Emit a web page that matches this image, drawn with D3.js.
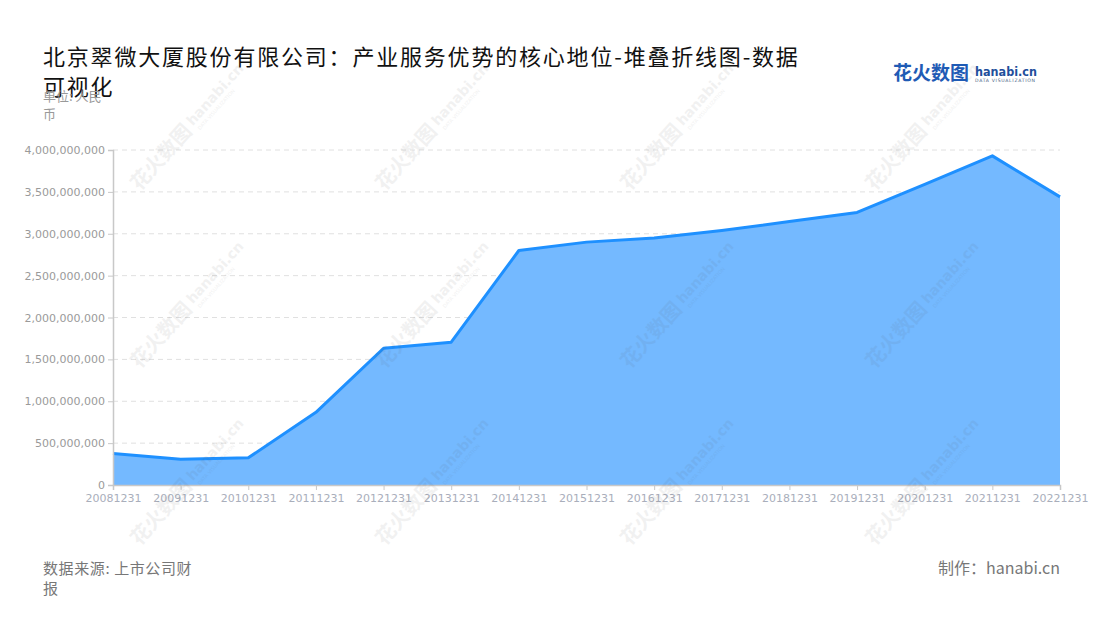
<!DOCTYPE html>
<html>
<head>
<meta charset="utf-8">
<script src="https://cdn.jsdelivr.net/npm/d3@7"></script>
<style>
  body { margin: 0; background: #fff; }
  svg { display: block; }
</style>
</head>
<body>
<script>
  // data
  var categories = ["20081231", "20091231", "20101231", "20111231", "20121231", "20131231", "20141231",
    "20151231", "20161231", "20171231", "20181231", "20191231", "20201231", "20211231", "20221231"];
  var values = [375000000, 307000000, 325000000, 868000000, 1633000000, 1705000000, 2800000000,
    2900000000, 2948000000, 3038000000, 3145000000, 3255000000, 3590000000, 3930000000, 3440000000];
  var yTicks = [0, 500000000, 1000000000, 1500000000, 2000000000, 2500000000, 3000000000, 3500000000, 4000000000];

  var titleText = "北京翠微大厦股份有限公司：产业服务优势的核心地位-堆叠折线图-数据可视化";
  var unitText = "单位: 人民币";
  var sourceText = "数据来源: 上市公司财报";
  var makerText = "制作：hanabi.cn";

  var width = 1100, height = 620;
  var margin = {top: 150, right: 40, bottom: 135, left: 113};

  var svg = d3.select('body').append('svg')
    .attr('width', width)
    .attr('height', height);

  var x = d3.scalePoint()
    .domain(categories)
    .range([margin.left, width - margin.right]);

  var y = d3.scaleLinear()
    .domain([0, 4000000000])
    .range([height - margin.bottom, margin.top]);

  // wraps text into tspans no wider than maxW
  function wrapText(sel, text, maxW, lineH) {
    var chars = Array.from(text);
    var line = "", lines = [];
    var probe = sel.append('tspan');
    chars.forEach(function(c) {
      probe.text(line + c);
      if (probe.node().getComputedTextLength() > maxW && line.length) {
        lines.push(line);
        line = c;
      } else {
        line += c;
      }
    });
    lines.push(line);
    probe.remove();
    var x0 = sel.attr('x');
    lines.forEach(function(l, i) {
      sel.append('tspan').attr('x', x0).attr('dy', i ? lineH : 0).text(l);
    });
  }

  // gridlines
  svg.append('g')
    .selectAll('line')
    .data(yTicks.slice(1))
    .enter()
    .append('line')
      .attr('x1', margin.left)
      .attr('x2', width - margin.right)
      .attr('y1', function(d) { return y(d); })
      .attr('y2', function(d) { return y(d); })
      .attr('stroke', '#e0e0e0')
      .attr('stroke-dasharray', '5,4');

  var area = d3.area()
    .x(function(d, i) { return x(categories[i]); })
    .y0(y(0))
    .y1(function(d) { return y(d); });

  var line = d3.line()
    .x(function(d, i) { return x(categories[i]); })
    .y(function(d) { return y(d); });

  svg.append('path')
    .datum(values)
    .attr('d', area)
    .attr('fill', '#74b9ff');

  svg.append('path')
    .datum(values)
    .attr('d', line)
    .attr('fill', 'none')
    .attr('stroke', '#1e90ff')
    .attr('stroke-width', 3)
    .attr('stroke-linejoin', 'round');

  // axes
  var yAxis = svg.append('g')
    .attr('transform', 'translate(' + margin.left + ',0)')
    .call(d3.axisLeft(y).tickValues(yTicks).tickSize(5).tickPadding(3).tickFormat(d3.format(',')));

  var xAxis = svg.append('g')
    .attr('transform', 'translate(0,' + y(0) + ')')
    .call(d3.axisBottom(x).tickSize(5).tickPadding(4));

  [yAxis, xAxis].forEach(function(a) {
    a.select('.domain').attr('stroke', '#c8c8c8').attr('stroke-width', 1.5);
    a.selectAll('.tick line').attr('stroke', '#c8c8c8');
    a.selectAll('.tick text')
      .attr('font-family', 'DejaVu Sans')
      .attr('font-size', 11);
  });
  yAxis.selectAll('.tick text').attr('fill', '#9a9a9a');
  xAxis.selectAll('.tick text').attr('fill', '#a9aebb');

  // watermarks
  var wmX = [175, 420, 665, 910];
  var wmY = [140, 318, 495];
  var wm = svg.append('g').attr('pointer-events', 'none');
  wmY.forEach(function(wy) {
    wmX.forEach(function(wx) {
      var g = wm.append('g')
        .attr('transform', 'translate(' + wx + ',' + wy + ') rotate(-48)')
        .attr('opacity', 0.08);
      g.append('text')
        .attr('x', -62).attr('y', 8)
        .attr('font-family', 'Noto Sans CJK SC')
        .attr('font-weight', 'bold')
        .attr('font-size', 20)
        .attr('fill', '#555')
        .text('花火数图');
      g.append('text')
        .attr('x', 22).attr('y', 4)
        .attr('font-family', 'DejaVu Sans')
        .attr('font-weight', 'bold')
        .attr('font-size', 14)
        .attr('fill', '#555')
        .text('hanabi.cn');
      g.append('text')
        .attr('x', 24).attr('y', 12)
        .attr('font-family', 'DejaVu Sans')
        .attr('font-size', 5)
        .attr('fill', '#555')
        .text('DATA VISUALIZATION');
    });
  });

  // title
  var title = svg.append('text')
    .attr('x', 43).attr('y', 65)
    .attr('font-family', 'Noto Sans CJK SC')
    .attr('font-size', 22)
    .attr('letter-spacing', 1.8)
    .attr('fill', '#111');
  wrapText(title, titleText, 775, 30);

  var unit = svg.append('text')
    .attr('x', 43).attr('y', 101)
    .attr('font-family', 'Noto Sans CJK SC')
    .attr('font-size', 13)
    .attr('fill', '#999');
  wrapText(unit, unitText, 70, 18);

  // logo
  var logo = svg.append('g').attr('transform', 'translate(893,80)');
  logo.append('text')
    .attr('font-family', 'Noto Sans CJK SC')
    .attr('font-weight', 'bold')
    .attr('font-size', 19)
    .attr('fill', '#1f5bb5')
    .text('花火数图');
  logo.append('text')
    .attr('x', 82).attr('y', -4)
    .attr('font-family', 'DejaVu Sans')
    .attr('font-weight', 'bold')
    .attr('font-size', 13)
    .attr('textLength', 62)
    .attr('lengthAdjust', 'spacingAndGlyphs')
    .attr('fill', '#1f4f9c')
    .text('hanabi.cn');
  logo.append('text')
    .attr('x', 82).attr('y', 2)
    .attr('font-family', 'DejaVu Sans')
    .attr('font-size', 4.6)
    .attr('textLength', 60)
    .attr('fill', '#4a5f86')
    .text('DATA VISUALIZATION');

  // footer
  var source = svg.append('text')
    .attr('x', 43).attr('y', 574)
    .attr('font-family', 'Noto Sans CJK SC')
    .attr('font-size', 15)
    .attr('letter-spacing', 0.6)
    .attr('fill', '#777');
  wrapText(source, sourceText, 158, 20);

  svg.append('text')
    .attr('x', 1060).attr('y', 574)
    .attr('text-anchor', 'end')
    .attr('font-family', 'Noto Sans CJK SC')
    .attr('font-size', 16)
    .attr('fill', '#777')
    .text(makerText);
</script>
</body>
</html>
